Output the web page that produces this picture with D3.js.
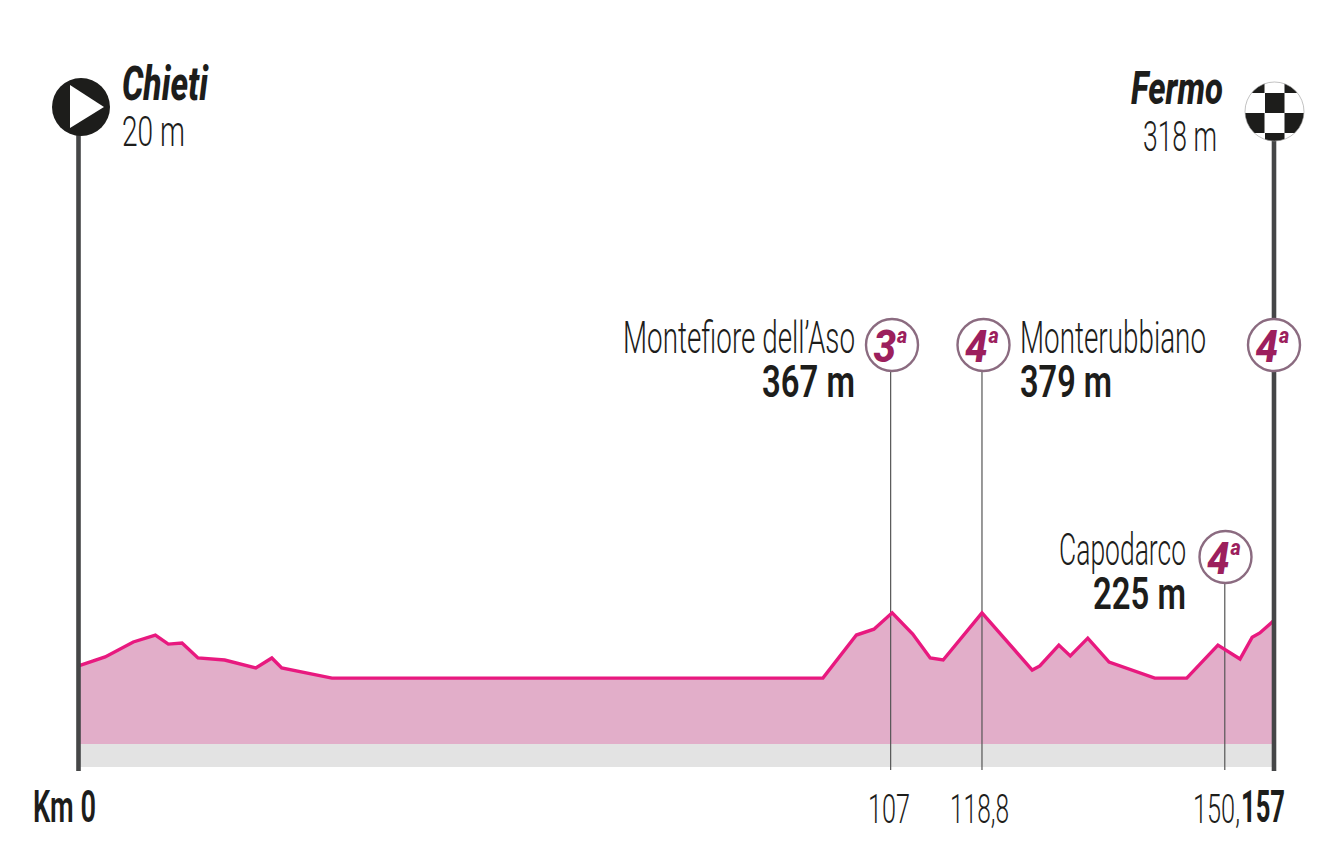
<!DOCTYPE html>
<html><head><meta charset="utf-8">
<script src="https://cdn.jsdelivr.net/npm/d3@7"></script>
<style>html,body{margin:0;padding:0;background:#fff}svg{display:block}text{font-family:Roboto,"Noto Sans",sans-serif;fill:#1d1d1b}</style>
</head><body><svg id="c" width="1321" height="848"></svg>
<script>
const profileKm=[0,3.5,7.2,10.1,11.8,13.6,15.7,19.2,23.3,25.4,26.7,33.3,97.8,102.2,104.5,106.9,109.6,111.9,113.6,118.7,125.3,126.3,128.8,130.3,132.6,135.4,141.4,145.6,149.7,152.6,154.2,155.2,157];
const profileHeight=[225,251,294,314,288,291,248,242,219,248,219,190,190,314,331,378,317,248,242,378,213,225,285,254,305,236,190,190,285,245,308,320,355];
const climbNames=["Montefiore dell’Aso","Monterubbiano","Capodarco",""];
const climbHeights=["367 m","379 m","225 m",""];
const climbCats=["3","4","4","4"];
const climbKm=[106.7,118.7,150.6,157];
const kmLabels=["Km 0","107","118,8","150,","157"];

const svg=d3.select("#c");
const x=d3.scaleLinear().domain([0,157]).range([78.5,1273.5]);
const y=d3.scaleLinear().domain([0,379]).range([744,612.5]);
const pts=profileKm.map((k,i)=>[k,profileHeight[i]]);

function label(t,x1,x2,base,size,weight,style,fill){
  const n=svg.append("text").attr("x",x1).attr("y",base).attr("font-size",size).attr("font-weight",weight)
   .attr("font-style",style||"normal").attr("textLength",x2-x1).attr("lengthAdjust","spacingAndGlyphs").text(t);
  if(fill)n.style("fill",fill);
  return n;
}
svg.append("rect").attr("x",x(0)).attr("width",x(157)-x(0)).attr("y",744).attr("height",23).attr("fill","#e3e3e3");
svg.append("path").datum(pts).attr("fill","#e2aec9")
 .attr("d",d3.area().x(d=>x(d[0])).y0(y(0)).y1(d=>y(d[1])));
const tops=[372,372,583];
climbKm.slice(0,3).forEach((k,i)=>{
  svg.append("line").attr("x1",x(k)).attr("x2",x(k)).attr("y1",tops[i]).attr("y2",770).attr("stroke","#555").attr("stroke-width",1.2);
});
svg.append("path").datum(pts).attr("fill","none").attr("stroke","#e8197f").attr("stroke-width",3.4).attr("stroke-linejoin","miter")
 .attr("d",d3.line().x(d=>x(d[0])).y(d=>y(d[1])));
[[78.5,136],[1274,141]].forEach(p=>{
  svg.append("line").attr("x1",p[0]).attr("x2",p[0]).attr("y1",p[1]-4).attr("y2",771).attr("stroke","#454647").attr("stroke-width",4.6);
});
svg.append("circle").attr("cx",81).attr("cy",107).attr("r",29).attr("fill","#1d1d1b");
svg.append("path").attr("d","M70,85L104,107L70,128Z").attr("fill","#fff");
const defs=svg.append("defs");
defs.append("clipPath").attr("id","fc").append("circle").attr("cx",1274.5).attr("cy",111.5).attr("r",29.5);
const g=svg.append("g").attr("clip-path","url(#fc)");
g.append("rect").attr("x",1244).attr("y",81).attr("width",61).attr("height",61).attr("fill","#fff");
const cols=[1245,1265,1284.5],rows=[73,93,113,133];
rows.forEach((ry,r)=>cols.forEach((cx,c)=>{
  if((r+c)%2===0) g.append("rect").attr("x",cx-(c===0?1:0)).attr("y",ry).attr("width",c===1?19.5:20.5).attr("height",20).attr("fill","#1d1d1b");
}));
svg.append("circle").attr("cx",1274.5).attr("cy",111.5).attr("r",29.5).attr("fill","none").attr("stroke","#999").attr("stroke-width",.6);
label("Chieti",122,208,100,48,800,"italic");
label("20 m",122,185,146,43,300);
label("Fermo",1131,1223,104,46,800,"italic");
label("318 m",1143,1217,151,43,300);
label(climbNames[0],623,855,353,45,300);
label(climbHeights[0],762,855,397,44,600);
label(climbNames[1],1020,1206,353,45,300);
label(climbHeights[1],1020,1112,397,44,600);
label(climbNames[2],1059,1186,565,45,300);
label(climbHeights[2],1093,1186,609,44,600);
[[892,345],[983.5,345],[1225.5,557],[1274,345]].forEach((b,i)=>{
  svg.append("circle").attr("cx",b[0]).attr("cy",b[1]).attr("r",26).attr("fill","#fff").attr("stroke","#8b6b80").attr("stroke-width",2.4);
  const t=svg.append("text").attr("transform",`translate(${b[0]-18.5},${b[1]+17}) scale(.9,1)`).attr("font-weight",800).attr("font-style","italic").style("fill","#9c1f5d");
  t.append("tspan").attr("font-size",45).text(climbCats[i]);
  t.append("tspan").attr("font-size",22).attr("dy",-19).attr("dx",1).text("a");
});
label(kmLabels[0],33,96,822,45,600);
label(kmLabels[1],868,910,823,41,300);
label(kmLabels[2],950,1009,823,41,300);
label(kmLabels[3],1193,1240,823,41,300);
label(kmLabels[4],1241,1285,822,45,700);
</script></body></html>
